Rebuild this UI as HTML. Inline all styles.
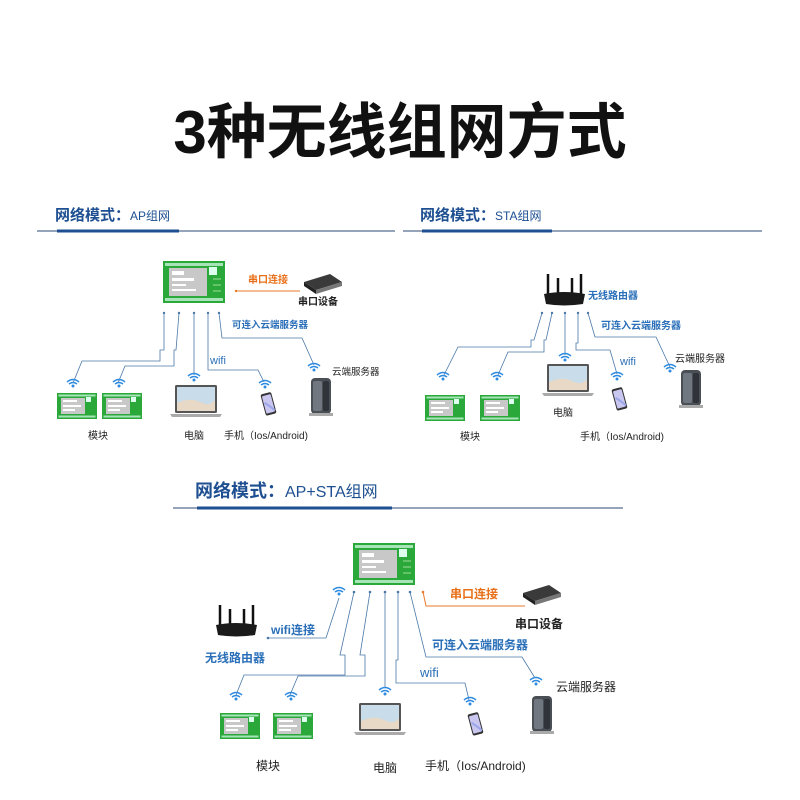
<!DOCTYPE html>
<html><head><meta charset="utf-8"><style>
html,body{margin:0;padding:0;background:#fff;}
svg{display:block}
text{font-family:"Liberation Sans","Noto Sans CJK SC",sans-serif;}
</style></head><body>
<svg width="800" height="800" viewBox="0 0 800 800" xmlns="http://www.w3.org/2000/svg">
<defs>
<g id="mod">
  <rect x="0" y="0" width="62" height="42" fill="#2aa83a"/>
  <rect x="2" y="2" width="58" height="3" fill="#dfe" opacity=".7"/>
  <rect x="2" y="37" width="58" height="3" fill="#dfe" opacity=".7"/>
  <rect x="6" y="7" width="38" height="28" fill="#c8c8c8"/>
  <rect x="46" y="6" width="8" height="8" fill="#dfe"/>
  <path d="M50 18 h8 M50 24 h8 M50 30 h8" stroke="#7c7" stroke-width="1.5"/>
  <rect x="9" y="10" width="12" height="4" fill="#fff"/>
  <rect x="9" y="17" width="22" height="3" fill="#fff"/>
  <rect x="9" y="23" width="14" height="2" fill="#fff"/>
  <rect x="9" y="28" width="24" height="2" fill="#fff"/>
</g>
<g id="mods">
  <rect x="0" y="0" width="40" height="26" fill="#2aa83a"/>
  <rect x="1.5" y="1.5" width="37" height="2" fill="#dfe" opacity=".7"/>
  <rect x="1.5" y="22.5" width="37" height="2" fill="#dfe" opacity=".7"/>
  <rect x="4" y="5" width="24" height="16" fill="#c8c8c8"/>
  <rect x="29" y="4" width="5" height="5" fill="#dfe"/>
  <rect x="6" y="7" width="14" height="2" fill="#fff"/>
  <rect x="6" y="12" width="18" height="2" fill="#fff"/>
  <rect x="6" y="16" width="12" height="2" fill="#fff"/>
</g>
<g id="laptop">
  <rect x="5" y="0" width="42" height="28" rx="1.5" fill="#555"/>
  <rect x="7" y="2" width="38" height="24" fill="#c9dcea"/>
  <path d="M7 18 Q20 12 30 17 T45 15 V26 H7Z" fill="#e8d8c6"/>
  <path d="M0 29 H52 L50 32 H2Z" fill="#aaa"/>
</g>
<g id="phone">
  <rect x="0" y="3" width="11" height="22" rx="2" fill="#333" transform="rotate(-15 5 14)"/>
  <rect x="1" y="5" width="9" height="18" rx="1" fill="#c9c6f0" transform="rotate(-15 5 14)"/>
  <path d="M2 12 Q6 16 10 22" stroke="#9aa6e8" stroke-width="2" fill="none" transform="rotate(-15 5 14)"/>
</g>
<g id="server">
  <rect x="0" y="0" width="20" height="36" rx="4" fill="#4a4f56"/>
  <rect x="2" y="3" width="9" height="30" rx="2" fill="#707780"/>
  <rect x="12" y="3" width="6" height="30" rx="2" fill="#30343a"/>
  <rect x="-2" y="35" width="24" height="3" fill="#aaa"/>
</g>
<g id="router">
  <path d="M4 0 V22 M14 4 V22 M28 4 V22 M37 0 V22" stroke="#111" stroke-width="2.5"/>
  <path d="M0 20 Q20 16 41 20 L39 30 Q20 33 2 30Z" fill="#1a1a1a"/>
</g>
<g id="serial">
  <path d="M0 8 L26 0 L38 8 L12 16Z" fill="#3a3a3a"/>
  <path d="M0 8 L12 16 V20 L0 12Z" fill="#222"/>
  <path d="M12 16 L38 8 V12 L12 20Z" fill="#777"/>
</g>
<g id="wifi">
  <path d="M-6 -2 Q0 -7 6 -2" stroke="#2e8be0" stroke-width="1.5" fill="none"/>
  <path d="M-4 0 Q0 -3 4 0" stroke="#2e8be0" stroke-width="1.5" fill="none"/>
  <circle cx="0" cy="2" r="1.5" fill="#2e8be0"/>
</g>
</defs>

<text x="400" y="153" font-size="60" font-weight="bold" text-anchor="middle" fill="#111">3种无线组网方式</text>

<!-- Section 1 header -->
<text x="55" y="220" font-size="15" fill="#1d4f91" font-weight="bold">网络模式：<tspan font-size="12" font-weight="normal">AP组网</tspan></text>
<line x1="37" y1="231" x2="395" y2="231" stroke="#2b4a75" stroke-width="1"/>
<rect x="57" y="229.5" width="122" height="3" fill="#1d4f91"/>
<!-- Section 2 header -->
<text x="420" y="220" font-size="15" fill="#1d4f91" font-weight="bold">网络模式：<tspan font-size="12" font-weight="normal">STA组网</tspan></text>
<line x1="403" y1="231" x2="762" y2="231" stroke="#2b4a75" stroke-width="1"/>
<rect x="422" y="229.5" width="130" height="3" fill="#1d4f91"/>
<!-- Section 3 header -->
<text x="195" y="497" font-size="18" fill="#1d4f91" font-weight="bold">网络模式：<tspan font-size="16" font-weight="normal">AP+STA组网</tspan></text>
<line x1="173" y1="508" x2="623" y2="508" stroke="#2b4a75" stroke-width="1"/>
<rect x="197" y="506.5" width="195" height="3" fill="#1d4f91"/>

<!-- Diagram 1 -->
<use href="#mod" x="163" y="261"/>
<line x1="235" y1="291" x2="300" y2="291" stroke="#e87a2a" stroke-width="1"/>
<circle cx="236" cy="291" r="1.2" fill="#e87a2a"/>
<text x="248" y="283" font-size="10" fill="#e8701a" font-weight="bold">串口连接</text>
<use href="#serial" x="304" y="274"/>
<text x="298" y="305" font-size="10" fill="#222" font-weight="bold">串口设备</text>
<text x="232" y="328" font-size="9.5" fill="#2a6fb8" font-weight="bold">可连入云端服务器</text>
<g stroke="#4a78a8" stroke-width="0.8" fill="none">
<polyline points="164,313 164,350 160,350 160,361 82,361 73,383"/>
<polyline points="179,313 176,350 174,350 174,366 125,366 118,383"/>
<polyline points="194,313 194,375"/>
<polyline points="208,313 208,370 258,370 264,382"/>
<polyline points="219,313 222,338 302,338 314,365"/>
</g>
<g fill="#4a78a8"><circle cx="164" cy="313" r="1.2"/><circle cx="179" cy="313" r="1.2"/><circle cx="194" cy="313" r="1.2"/><circle cx="208" cy="313" r="1.2"/><circle cx="219" cy="313" r="1.2"/></g>
<use href="#wifi" x="73" y="384"/><use href="#wifi" x="119" y="384"/><use href="#wifi" x="194" y="378"/><use href="#wifi" x="265" y="385"/><use href="#wifi" x="314" y="368"/>
<text x="210" y="364" font-size="11" fill="#2a6fb8">wifi</text>
<use href="#mods" x="57" y="393"/><use href="#mods" x="102" y="393"/>
<use href="#laptop" x="170" y="385"/>
<use href="#phone" x="263" y="390"/>
<use href="#server" x="311" y="378"/>
<text x="332" y="375" font-size="9.5" fill="#222">云端服务器</text>
<text x="88" y="439" font-size="10" fill="#222">模块</text>
<text x="184" y="439" font-size="10" fill="#222">电脑</text>
<text x="224" y="439" font-size="10" fill="#222">手机（Ios/Android)</text>

<!-- Diagram 2 -->
<use href="#router" x="544" y="274"/>
<text x="588" y="299" font-size="10" fill="#2a6fb8" font-weight="bold">无线路由器</text>
<text x="601" y="329" font-size="10" fill="#2a6fb8" font-weight="bold">可连入云端服务器</text>
<g stroke="#4a78a8" stroke-width="0.8" fill="none">
<polyline points="542,313 534,340 531,340 531,347 458,347 444,375"/>
<polyline points="552,313 546,340 544,340 544,352 508,352 498,375"/>
<polyline points="565,313 565,355"/>
<polyline points="578,313 578,343 576,343 576,350 610,350 617,374"/>
<polyline points="588,313 595,337 656,337 670,367"/>
</g>
<g fill="#4a78a8"><circle cx="542" cy="313" r="1.2"/><circle cx="552" cy="313" r="1.2"/><circle cx="565" cy="313" r="1.2"/><circle cx="578" cy="313" r="1.2"/><circle cx="588" cy="313" r="1.2"/></g>
<use href="#wifi" x="443" y="377"/><use href="#wifi" x="497" y="377"/><use href="#wifi" x="565" y="358"/><use href="#wifi" x="617" y="377"/><use href="#wifi" x="670" y="369"/>
<text x="620" y="365" font-size="11" fill="#2a6fb8">wifi</text>
<text x="675" y="362" font-size="10" fill="#222">云端服务器</text>
<use href="#mods" x="425" y="395"/><use href="#mods" x="480" y="395"/>
<use href="#laptop" x="542" y="364"/>
<use href="#phone" x="614" y="385"/>
<use href="#server" x="681" y="370"/>
<text x="553" y="416" font-size="10" fill="#222">电脑</text>
<text x="460" y="440" font-size="10" fill="#222">模块</text>
<text x="580" y="440" font-size="10" fill="#222">手机（Ios/Android)</text>

<!-- Diagram 3 -->
<use href="#mod" x="353" y="543"/>
<use href="#wifi" x="339" y="592"/>
<use href="#router" x="216" y="605"/>
<text x="205" y="662" font-size="12" fill="#2a6fb8" font-weight="bold">无线路由器</text>
<text x="271" y="634" font-size="12" fill="#2a6fb8" font-weight="bold">wifi连接</text>
<polyline points="268,638 326,638 339,598" stroke="#4a78a8" stroke-width="0.8" fill="none"/>
<circle cx="268" cy="638" r="1.3" fill="#4a78a8"/>
<g stroke="#4a78a8" stroke-width="0.8" fill="none">
<polyline points="354,592 340,655 345,655 345,675 244,675 236,695"/>
<polyline points="370,592 360,655 365,655 365,676 298,676 290,695"/>
<polyline points="385,592 385,688"/>
<polyline points="398,592 398,660 396,660 396,683 465,683 469,700"/>
<polyline points="410,592 426,657 522,657 535,678"/>
</g>
<g fill="#4a78a8"><circle cx="354" cy="592" r="1.3"/><circle cx="370" cy="592" r="1.3"/><circle cx="385" cy="592" r="1.3"/><circle cx="398" cy="592" r="1.3"/><circle cx="410" cy="592" r="1.3"/></g>
<polyline points="423,592 426,606 525,606" stroke="#e87a2a" stroke-width="1" fill="none"/>
<circle cx="423" cy="592" r="1.3" fill="#e87a2a"/>
<text x="450" y="598" font-size="12" fill="#e8701a" font-weight="bold">串口连接</text>
<use href="#serial" x="525" y="585" transform="translate(-2 0)"/>
<text x="515" y="628" font-size="12" fill="#222" font-weight="bold">串口设备</text>
<text x="432" y="649" font-size="12" fill="#2a6fb8" font-weight="bold">可连入云端服务器</text>
<text x="420" y="677" font-size="13" fill="#2a6fb8">wifi</text>
<text x="556" y="691" font-size="12" fill="#222">云端服务器</text>
<use href="#wifi" x="236" y="697"/><use href="#wifi" x="291" y="697"/><use href="#wifi" x="385" y="692"/><use href="#wifi" x="470" y="702"/><use href="#wifi" x="536" y="682"/>
<use href="#mods" x="220" y="713"/><use href="#mods" x="273" y="713"/>
<use href="#laptop" x="354" y="703" transform="translate(0 0)"/>
<use href="#phone" x="470" y="710"/>
<use href="#server" x="532" y="696"/>
<text x="256" y="770" font-size="12" fill="#222">模块</text>
<text x="373" y="772" font-size="12" fill="#222">电脑</text>
<text x="425" y="770" font-size="12" fill="#222">手机（Ios/Android)</text>
</svg>
</body></html>
